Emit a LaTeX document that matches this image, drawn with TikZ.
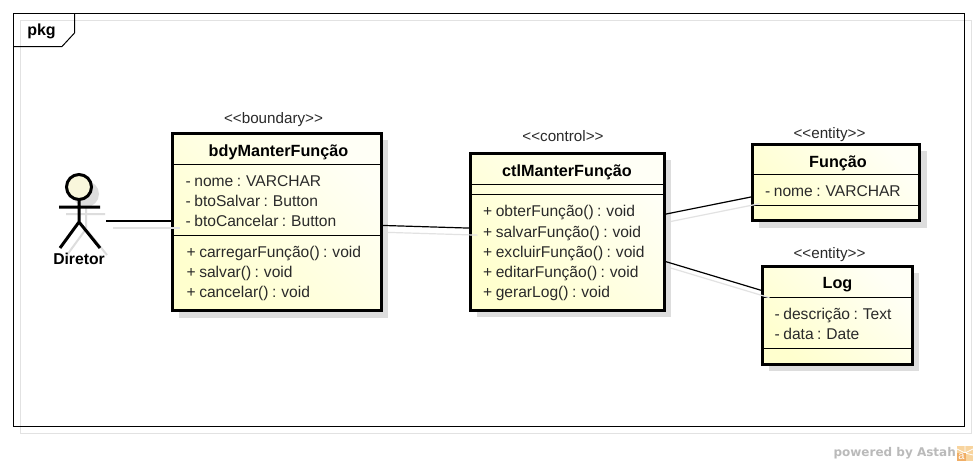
\documentclass[tikz,border=0pt]{standalone}
\usepackage{fontspec}
\setmainfont[WordSpace=0.8]{Liberation Sans}
\newfontfamily\astahfont{DejaVu Sans}
\newfontfamily\plainsans{Liberation Sans}
\usetikzlibrary{calc}
\definecolor{shadowgray}{HTML}{DDDDDD}
\definecolor{shadowline}{HTML}{E2E2E2}
\definecolor{classlight}{HTML}{FFFFF6}
\definecolor{classdark}{HTML}{FFFFCE}
\definecolor{headfill}{HTML}{F9F7DC}
\definecolor{inktext}{HTML}{2A2A2A}
\definecolor{logolight}{HTML}{F8D49E}
\definecolor{logodark}{HTML}{F0AE66}
\newcommand{\bodyfont}{\fontsize{15.6}{20.2}\selectfont}
\newcommand{\stereofont}{\fontsize{15.2}{18}\selectfont}
\newcommand{\titlefont}{\plainsans\fontsize{16.2}{18}\selectfont\bfseries}
\tikzset{
  x=1pt,y=-1pt,
  classbox/.style={draw=black,line width=3pt,left color=classlight,right color=classdark,shading angle=315,minimum width=#1,inner sep=0pt,outer sep=0pt},
  shadowbox/.style={fill=shadowgray,draw=none},
  sepline/.style={line width=1pt,black},
  conn/.style={line width=1.2pt,black},
  connshadow/.style={line width=1.2pt,shadowline},
  framepath/.style={line width=1pt,black},
  stereo/.style={font=\stereofont,text=inktext,inner sep=0pt},
  classtitle/.style={font=\titlefont,text=black,inner sep=0pt},
  members/.style={font=\bodyfont,text=inktext,align=left,anchor=north west,inner sep=0pt},
  actorline/.style={line width=3pt,black},
  actorshadow/.style={line width=2pt,shadowgray},
}
\begin{document}
\begin{tikzpicture}
\useasboundingbox (0,0) rectangle (977,466);
\fill[white] (0,0) rectangle (977,466);
% frame shadow and frame
\draw[line width=1pt,shadowline] (20.5,20.5) rectangle (971,433);
\draw[framepath] (13.5,13.5) rectangle (964.5,426.5);
\draw[framepath] (13.5,46.5) -- (62,46.5) -- (74.5,33) -- (74.5,13.5);
\node[font=\plainsans\fontsize{16}{18}\selectfont\bfseries,inner sep=0pt,text=black] (pkgname) at (41.5,31) {pkg};
% box shadows
\fill[shadowbox] (179,140) rectangle (388,318);
\fill[shadowbox] (477,160) rectangle (671,317);
\fill[shadowbox] (759,151) rectangle (927,228);
\fill[shadowbox] (769,273) rectangle (919,371);
% actor shadow
\draw[actorshadow] (86,206) -- (86,229) (66,214) -- (105,214) (86,229) -- (67,255) (86,229) -- (107,255);
\fill[shadowgray] (86,194) circle (13);
% class boxes
\node[classbox=208.5pt,minimum height=176.5pt] (bdy) at (276.75,221.75) {};
\node[classbox=193.5pt,minimum height=157pt] (ctl) at (567.25,231.5) {};
\node[classbox=166.5pt,minimum height=76pt] (fun) at (835.75,182) {};
\node[classbox=149.5pt,minimum height=98pt] (log) at (837.25,315) {};
% actor (invisible node the connector attaches to)
\node[minimum width=53pt,minimum height=94pt,inner sep=0pt,outer sep=0pt] (actor) at (79.5,221) {};
\draw[line width=3pt,black,fill=headfill] (79,187) circle (12.5);
\draw[actorline] (79,199.5) -- (79,222) (59,207) -- (100,207) (60,248) -- (79,222) -- (100,248);
\node[classtitle,font=\plainsans\fontsize{15.7}{18}\selectfont\bfseries] (actorname) at (79,259) {Diretor};
% compartments
\draw[sepline] (bdy.west |- 0,164) -- (bdy.east |- 0,164);
\draw[sepline] (bdy.west |- 0,235) -- (bdy.east |- 0,235);
\draw[sepline] (ctl.west |- 0,184) -- (ctl.east |- 0,184);
\draw[sepline] (ctl.west |- 0,194) -- (ctl.east |- 0,194);
\draw[sepline] (fun.west |- 0,174) -- (fun.east |- 0,174);
\draw[sepline] (fun.west |- 0,205) -- (fun.east |- 0,205);
\draw[sepline] (log.west |- 0,297) -- (log.east |- 0,297);
\draw[sepline] (log.west |- 0,348) -- (log.east |- 0,348);
% connector shadows
\draw[connshadow] ($(actor.east)+(7,7)$) -- ($(bdy.west |- actor.east)+(7,7)$);
\draw[connshadow] ($(bdy.-2.6)+(7,7)$) -- ($(ctl.178.5)+(7,7)$);
\draw[connshadow] ($(ctl.10.8)+(7,7)$) -- ($(fun.190.2)+(7,7)$);
\draw[connshadow] ($(ctl.-17.5)+(7,7)$) -- ($(log.162.9)+(7,7)$);
% connectors
\draw[conn] (actor.east) -- (bdy.west |- actor.east);
\draw[conn] (bdy.-2.6) -- (ctl.178.5);
\draw[conn] (ctl.10.8) -- (fun.190.2);
\draw[conn] (ctl.-17.5) -- (log.162.9);
% stereotypes
\node[stereo] (st1) at (273.5,120) {<{}<boundary>{}>};
\node[stereo] (st2) at (563,136) {<{}<control>{}>};
\node[stereo] (st3) at (829.5,135) {<{}<entity>{}>};
\node[stereo] (st4) at (829.5,255) {<{}<entity>{}>};
% titles
\node[classtitle] (t1) at (278.5,152) {bdyManterFunção};
\node[classtitle] (t2) at (567,172) {ctlManterFunção};
\node[classtitle] (t3) at (838,163) {Função};
\node[classtitle] (t4) at (837.5,285) {Log};
% members
\node[members] (m1) at (185.5,175.3) {- nome : VARCHAR\\- btoSalvar : Button\\- btoCancelar : Button};
\node[members] (m2) at (186.5,245.8) {+ carregarFunção() : void\\+ salvar() : void\\+ cancelar() : void};
\node[members] (m3) at (483,205.3) {+ obterFunção() : void\\+ salvarFunção() : void\\+ excluirFunção() : void\\+ editarFunção() : void\\+ gerarLog() : void};
\node[members] (m4) at (765,185.3) {- nome : VARCHAR};
\node[members] (m5) at (774.5,307.8) {- descrição : Text\\- data : Date};
% footer
\node[font=\astahfont\fontsize{12}{16}\selectfont\bfseries,text=black!27,inner sep=0pt,anchor=east] (powered) at (956,453) {powered by Astah};
\fill[logolight] (957,446) rectangle (973,461);
\draw[white,line width=.8pt] (965,446) -- (965,453) (973,449) -- (965,453) (957,449) -- (965,453) (973,455) -- (965,453);
\fill[logodark] (957,453) rectangle (966,461);
\node[font=\plainsans\fontsize{11}{12}\selectfont,text=white,inner sep=0pt] (logoa) at (961.5,456.5) {a};
\end{tikzpicture}
\end{document}
